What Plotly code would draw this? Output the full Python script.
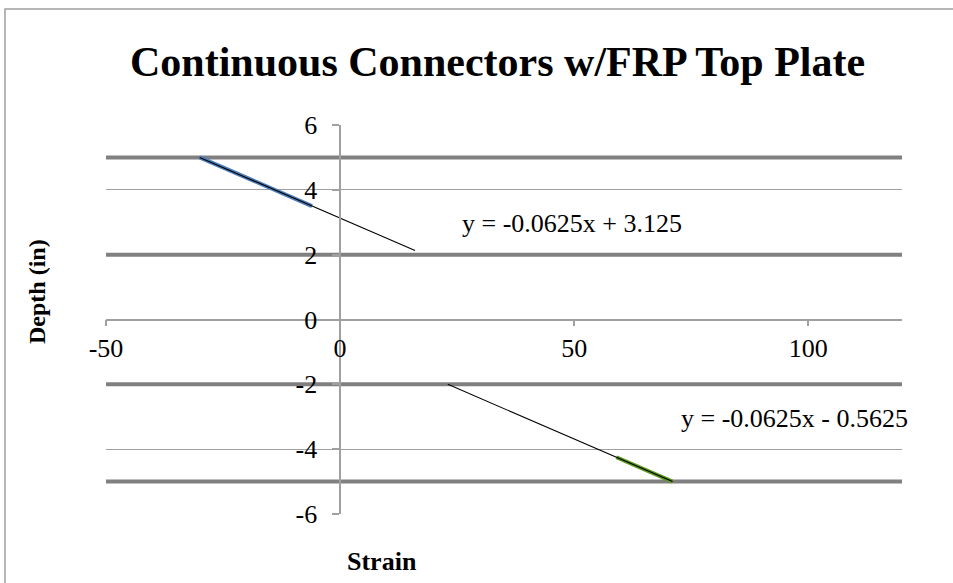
import numpy as np
import plotly.graph_objects as go

# Measured strain points (top plate and bottom flange)
top_strain = [-30, -6]
top_depth = [5, 3.5]
bottom_strain = [59, 71]
bottom_depth = [-4.25, -5]

# Extents of the linear trend lines (with forecast)
top_trend_x = [-30, 16]
bottom_trend_x = [23, 71]

# Horizontal reference lines at layer boundaries
layer_depths = [5, 2, -2, -5]
layer_x = [-50, 120]

x_range = [-50, 120]
y_range = [-6, 6]
x_ticks = [-50, 0, 50, 100]
y_ticks = [-6, -4, -2, 0, 2, 4, 6]

SERIF = "Liberation Serif, Times New Roman, serif"

# plot area in pixels, used to place free text in paper units
PL, PR, PT, PB = 106, 902, 125, 514


def px_x(p):
    return (p - PL) / (PR - PL)


def px_y(p):
    return (PB - p) / (PB - PT)


fig = go.Figure()

for d in layer_depths:
    fig.add_trace(go.Scatter(x=layer_x, y=[d, d], mode="lines",
                             line=dict(color="#808080", width=4),
                             showlegend=False, hoverinfo="skip", cliponaxis=False))

fig.add_trace(go.Scatter(x=top_strain, y=top_depth, mode="lines",
                         line=dict(color="#4a7ebb", width=4), showlegend=False))
fig.add_trace(go.Scatter(x=bottom_strain, y=bottom_depth, mode="lines",
                         line=dict(color="#5b9a1f", width=4), showlegend=False))


def trend(xs, ys, span):
    m, b = np.polyfit(xs, ys, 1)
    xx = np.array(span, dtype=float)
    return xx, m * xx + b, m, b


def eq_text(m, b):
    sign = "+" if b >= 0 else "-"
    return f"y = {m:.4f}x {sign} {abs(b):g}"


tx, ty, tm, tb = trend(top_strain, top_depth, top_trend_x)
bx, by, bm, bb = trend(bottom_strain, bottom_depth, bottom_trend_x)
for xx, yy in ((tx, ty), (bx, by)):
    fig.add_trace(go.Scatter(x=xx, y=yy, mode="lines",
                             line=dict(color="#000000", width=1.1), showlegend=False))

fig.add_annotation(x=49.5, y=2.97, xref="x", yref="y", text=eq_text(tm, tb),
                   xanchor="center", yanchor="middle",
                   showarrow=False, font=dict(family=SERIF, size=26, color="#000"))
fig.add_annotation(x=97, y=-3.04, xref="x", yref="y", text=eq_text(bm, bb),
                   xanchor="center", yanchor="middle",
                   showarrow=False, font=dict(family=SERIF, size=26, color="#000"))

# Title and axis titles
fig.add_annotation(x=px_x(497), y=px_y(62), xref="paper", yref="paper",
                   xanchor="center", yanchor="middle",
                   text="<b>Continuous Connectors w/FRP Top Plate</b>", showarrow=False,
                   font=dict(family=SERIF, size=42, color="#000"))
fig.add_annotation(x=px_x(382), y=px_y(561), xref="paper", yref="paper",
                   xanchor="center", yanchor="middle",
                   text="<b>Strain</b>", showarrow=False,
                   font=dict(family=SERIF, size=26, color="#000"))
fig.add_annotation(x=px_x(37), y=px_y(292), xref="paper", yref="paper",
                   xanchor="center", yanchor="middle",
                   text="<b>Depth (in)</b>", showarrow=False, textangle=-90,
                   font=dict(family=SERIF, size=24, color="#000"))

# Chart-area border
fig.add_shape(type="rect", xref="paper", yref="paper",
              x0=px_x(5), x1=px_x(965), y0=px_y(600), y1=px_y(9),
              line=dict(color="#a0a0a0", width=1.5), fillcolor="rgba(0,0,0,0)")

fig.update_layout(
    width=953, height=583,
    margin=dict(l=PL, r=953 - PR, t=PT, b=583 - PB),
    paper_bgcolor="white", plot_bgcolor="white",
    showlegend=False,
    xaxis=dict(range=x_range, tickvals=x_ticks, ticktext=[str(v) for v in x_ticks],
               anchor="free", position=0.5,
               showline=True, linecolor="#a0a0a0", linewidth=1.5,
               ticks="outside", ticklen=6, tickcolor="#a0a0a0", tickwidth=1.5,
               showgrid=False, zeroline=False,
               tickfont=dict(family=SERIF, size=26, color="#000")),
    yaxis=dict(range=y_range, tickvals=y_ticks, ticktext=[str(v) for v in y_ticks],
               anchor="free",
               position=(0 - x_range[0]) / (x_range[1] - x_range[0]),
               showline=True, linecolor="#a0a0a0", linewidth=1.5,
               ticks="outside", ticklen=7, tickcolor="#a0a0a0", tickwidth=1.5,
               ticklabelstandoff=10,
               showgrid=True, gridcolor="#a0a0a0", gridwidth=1.2, zeroline=False,
               tickfont=dict(family=SERIF, size=26, color="#000")),
)

fig.write_html("out.html")
